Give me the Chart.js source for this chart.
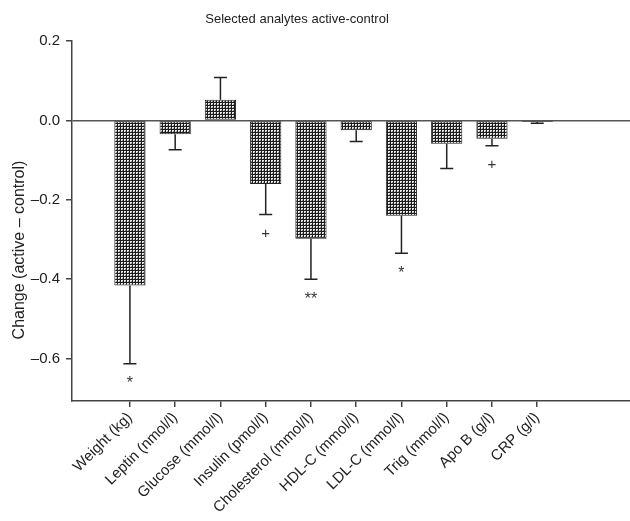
<!DOCTYPE html>
<html>
<head>
<meta charset="utf-8">
<script src="https://cdn.jsdelivr.net/npm/chart.js@4/dist/chart.umd.min.js"></script>
<style>
  html, body { margin: 0; padding: 0; background: #fff; }
  #wrap { width: 630px; height: 521px; }
</style>
</head>
<body>
<div id="wrap"><canvas id="myBarChart" width="630" height="521"></canvas></div>
<script>
// analytes on the x axis
const labels = ['Weight (kg)', 'Leptin (nmol/l)', 'Glucose (mmol/l)', 'Insulin (pmol/l)',
    'Cholesterol (mmol/l)', 'HDL-C (mmol/l)', 'LDL-C (mmol/l)', 'Trig (mmol/l)', 'Apo B (g/l)', 'CRP (g/l)'];
// mean change active - control
const changes = [-0.416, -0.035, 0.052, -0.160, -0.298, -0.025, -0.240, -0.059, -0.046, -0.004];
// error bar length (drawn away from zero)
const errors = [0.197, 0.039, 0.056, 0.077, 0.102, 0.028, 0.095, 0.062, 0.018, 0.003];
// significance marks under the error bars
const marks = ['*', '', '', '+', '**', '', '*', '', '+', ''];
const yTicks = [0.2, 0.0, -0.2, -0.4, -0.6];

function hatchPattern() {
    // small checker tile: dark grid with light dots
    const c = document.createElement('canvas');
    c.width = 3; c.height = 3;
    const g = c.getContext('2d');
    g.fillStyle = '#1c1c1c';
    g.fillRect(0, 0, 3, 3);
    g.fillStyle = '#e8e8e8';
    g.fillRect(1, 1, 2, 2);
    g.fillStyle = '#8a8a8a';
    g.fillRect(2, 2, 1, 1);
    return document.getElementById('myBarChart').getContext('2d').createPattern(c, 'repeat');
}

const extras = {
    id: 'extras',
    afterDatasetsDraw(chart) {
        const ctx = chart.ctx;
        const xs = chart.scales.x, ys = chart.scales.y;
        ctx.save();
        ctx.strokeStyle = '#222';
        ctx.lineWidth = 1.5;
        changes.forEach((v, i) => {
            const end = v + (v >= 0 ? errors[i] : -errors[i]);
            const x = xs.getPixelForValue(i);
            const y0 = ys.getPixelForValue(v);
            const y1 = ys.getPixelForValue(end);
            ctx.beginPath();
            ctx.moveTo(x, y0); ctx.lineTo(x, y1);
            ctx.moveTo(x - 6.5, y1); ctx.lineTo(x + 6.5, y1);
            ctx.stroke();
            if (marks[i]) {
                ctx.fillStyle = '#333';
                ctx.textAlign = 'center';
                ctx.textBaseline = 'middle';
                if (marks[i] === '+') {
                    ctx.font = '15px "Liberation Sans", Arial, sans-serif';
                    ctx.fillText(marks[i], x, y1 + 19);
                } else {
                    ctx.font = '16px "Liberation Sans", Arial, sans-serif';
                    ctx.fillText(marks[i], x, y1 + 20);
                }
            }
        });
        // title and y axis title
        ctx.fillStyle = '#222';
        ctx.textAlign = 'center';
        ctx.textBaseline = 'middle';
        ctx.font = '13px "Liberation Sans", Arial, sans-serif';
        ctx.fillText('Selected analytes active-control', 297, 19);
        ctx.translate(20, 250);
        ctx.rotate(-Math.PI / 2);
        ctx.font = '16px "Liberation Sans", Arial, sans-serif';
        ctx.fillText('Change (active \u2013 control)', 0, 0);
        ctx.restore();
    }
};

document.addEventListener('DOMContentLoaded', function () {
    const ctx = document.getElementById('myBarChart').getContext('2d');
    const myChart = new Chart(ctx, {
        type: 'bar',
        data: {
            datasets: [{
                data: changes.map((v, i) => ({ x: i, y: v })),
                backgroundColor: hatchPattern(),
                borderColor: '#222',
                borderWidth: 1,
                borderSkipped: false,
                categoryPercentage: 1,
                barPercentage: 0.69
            }]
        },
        options: {
            responsive: false,
            animation: false,
            layout: { padding: { top: 41, left: 0, right: 0, bottom: 0 } },
            plugins: {
                legend: { display: false },
                tooltip: { enabled: false }
            },
            scales: {
                x: {
                    type: 'linear',
                    offset: false,
                    min: -1.28,
                    max: 11.05,
                    afterBuildTicks: (s) => { s.ticks = labels.map((l, i) => ({ value: i })); },
                    afterFit: (s) => { s.height = 120; },
                    grid: { drawOnChartArea: false, offset: false, tickLength: 6, color: '#444', lineWidth: 1.5 },
                    border: { color: '#444', width: 1.5 },
                    ticks: {
                        autoSkip: false,
                        maxRotation: 45,
                        minRotation: 45,
                        padding: 2,
                        color: '#222',
                        font: { family: '"Liberation Sans", Arial, sans-serif', size: 15 },
                        callback: (v) => labels[v]
                    }
                },
                y: {
                    min: -0.707,
                    max: 0.2,
                    afterBuildTicks: (s) => { s.ticks = yTicks.map(v => ({ value: v })); },
                    afterFit: (s) => { s.width = 72; },
                    grid: {
                        drawOnChartArea: true,
                        tickLength: 6,
                        color: (c) => (c.tick && c.tick.value === 0 ? '#555' : 'rgba(0,0,0,0)'),
                        tickColor: '#444',
                        lineWidth: 1.5
                    },
                    border: { color: '#444', width: 1.5 },
                    ticks: {
                        padding: 6,
                        color: '#222',
                        font: { family: '"Liberation Sans", Arial, sans-serif', size: 15 },
                        callback: (v) => (v < 0 ? '\u2013' + Math.abs(v).toFixed(1) : v.toFixed(1))
                    }
                }
            }
        },
        plugins: [extras]
    });
});
</script>
</body>
</html>
